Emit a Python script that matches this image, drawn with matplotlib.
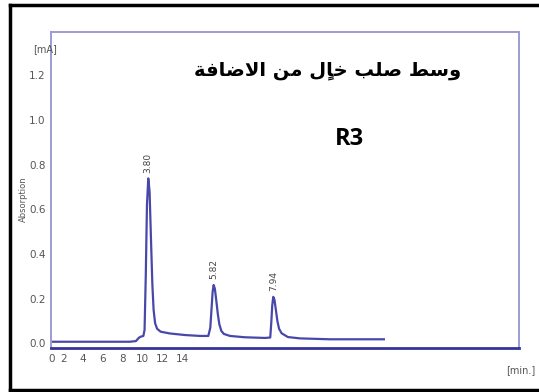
import numpy as np
import matplotlib
matplotlib.use("Agg")
import matplotlib.pyplot as plt
from matplotlib.lines import Line2D
from matplotlib.ticker import FixedLocator
from matplotlib import font_manager

# chromatogram trace (time axis units, absorption in mA)
trace_t = [0.88, 8.75, 9.34, 9.64, 9.84, 10.08, 10.20, 10.32, 10.44, 10.57,
           10.70, 10.85, 10.98, 11.10, 11.25, 11.45, 11.80, 12.73, 14.23, 15.72,
           16.55, 16.75, 16.88, 16.98, 17.08, 17.20, 17.35, 17.50, 17.65, 17.85,
           18.10, 18.70, 20.20, 22.20, 22.72, 22.82, 22.92, 23.02, 23.14, 23.28,
           23.43, 23.60, 23.85, 24.48, 25.68, 28.66, 34.04]
trace_a = [0.007, 0.007, 0.010, 0.025, 0.030, 0.033, 0.060, 0.300, 0.620, 0.738,
           0.680, 0.450, 0.260, 0.150, 0.090, 0.065, 0.052, 0.044, 0.037, 0.033,
           0.033, 0.070, 0.160, 0.230, 0.261, 0.245, 0.190, 0.130, 0.085, 0.055,
           0.042, 0.033, 0.027, 0.024, 0.026, 0.090, 0.170, 0.208, 0.195, 0.150,
           0.100, 0.065, 0.045, 0.028, 0.022, 0.018, 0.018]

# peak apexes and their retention-time labels
peak_t = [10.57, 17.08, 23.02]
peak_a = [0.738, 0.261, 0.208]
peak_labels = ["3.80", "5.82", "7.94"]

xtick_pos = [0.9, 2.1, 4, 6, 8, 10, 12, 14]
xtick_labels = ["0", "2", "4", "6", "8", "10", "12", "14"]
ytick_pos = [0.0, 0.2, 0.4, 0.6, 0.8, 1.0, 1.2]

title_ar = "وسط صلب خالٍ من الاضافة"
subtitle = "R3"

# presentation forms: isolated, final, initial, medial
FORMS = {
    "ا": (0xFE8D, 0xFE8E, None, None),
    "ب": (0xFE8F, 0xFE90, 0xFE91, 0xFE92),
    "ة": (0xFE93, 0xFE94, None, None),
    "خ": (0xFEA5, 0xFEA6, 0xFEA7, 0xFEA8),
    "س": (0xFEB1, 0xFEB2, 0xFEB3, 0xFEB4),
    "ص": (0xFEB9, 0xFEBA, 0xFEBB, 0xFEBC),
    "ض": (0xFEBD, 0xFEBE, 0xFEBF, 0xFEC0),
    "ط": (0xFEC1, 0xFEC2, 0xFEC3, 0xFEC4),
    "ف": (0xFED1, 0xFED2, 0xFED3, 0xFED4),
    "ل": (0xFEDD, 0xFEDE, 0xFEDF, 0xFEE0),
    "م": (0xFEE1, 0xFEE2, 0xFEE3, 0xFEE4),
    "ن": (0xFEE5, 0xFEE6, 0xFEE7, 0xFEE8),
    "و": (0xFEED, 0xFEEE, None, None),
}
LAM_ALEF = (0xFEFB, 0xFEFC)


def is_mark(c):
    return 0x064B <= ord(c) <= 0x0652


def shape_arabic(text):
    # contextual forms, then reversed into left-to-right drawing order
    chars = list(text)
    clusters = []
    i = 0
    while i < len(chars):
        c = chars[i]
        if is_mark(c):
            clusters[-1] += c
            i += 1
            continue
        if c not in FORMS:
            clusters.append(c)
            i += 1
            continue
        j = i - 1
        while j >= 0 and is_mark(chars[j]):
            j -= 1
        prev_joins = j >= 0 and chars[j] in FORMS and FORMS[chars[j]][2] is not None
        k = i + 1
        while k < len(chars) and is_mark(chars[k]):
            k += 1
        nxt = chars[k] if k < len(chars) else None
        if c == "ل" and nxt == "ا":
            clusters.append(chr(LAM_ALEF[1] if prev_joins else LAM_ALEF[0]))
            i = k + 1
            continue
        next_joins = nxt in FORMS and FORMS[c][2] is not None
        iso, fin, ini, med = FORMS[c]
        if prev_joins and next_joins:
            g = med
        elif prev_joins:
            g = fin
        elif next_joins:
            g = ini
        else:
            g = iso
        clusters.append(chr(g))
        i += 1
    return "".join(reversed(clusters))


# narrow face for the axis numbers if one is around
names = {f.name for f in font_manager.fontManager.ttflist}
narrow = [n for n in ["Liberation Sans Narrow", "DejaVu Sans Condensed"] if n in names]
tick_family = narrow + ["DejaVu Sans"]

fig = plt.figure(figsize=(5.39, 3.92), dpi=100)
ax = fig.add_axes([51 / 539, 1 - 348 / 392, 468 / 539, 316 / 392])

ax.plot(trace_t, trace_a, color="#4848aa", lw=1.6, solid_joinstyle="round")

for t, a, lab in zip(peak_t, peak_a, peak_labels):
    ax.annotate(lab, (t, a), xytext=(0, 4), textcoords="offset points",
                rotation=90, ha="center", va="bottom", fontsize=6.5,
                color="#444444")

ax.set_xlim(0.88, 47.5)
ax.set_ylim(-0.021, 1.393)

ax.xaxis.set_major_locator(FixedLocator(xtick_pos))
ax.set_xticklabels(xtick_labels)
ax.set_yticks(ytick_pos)
ax.set_yticklabels([f"{v:.1f}" for v in ytick_pos])
ax.tick_params(length=0, labelsize=7.5, labelcolor="#555555", pad=4)
for lab in ax.get_xticklabels() + ax.get_yticklabels():
    lab.set_family(tick_family)

for side in ["top", "left", "right"]:
    ax.spines[side].set_color("#9c9cd2")
    ax.spines[side].set_linewidth(1.4)
ax.spines["bottom"].set_color("#34349a")
ax.spines["bottom"].set_linewidth(2)

fig.text(33 / 539, 1 - 49 / 392, "[mA]", fontsize=7, color="#555555",
         ha="left", va="center", family=tick_family)
fig.text(23 / 539, 1 - 199 / 392, "Absorption", fontsize=6, color="#555555",
         rotation=90, ha="center", va="center")
fig.text(521 / 539, 1 - 370 / 392, "[min.]", fontsize=7, color="#555555",
         ha="center", va="center", family=tick_family)

fig.text(328 / 539, 1 - 70 / 392, shape_arabic(title_ar), fontsize=14,
         fontweight="bold", color="black", ha="center", va="center",
         family="DejaVu Sans")
fig.text(349 / 539, 1 - 139 / 392, subtitle, fontsize=17, fontweight="bold",
         color="black", ha="center", va="center", family="Open Sans")

# black border around the whole panel
for xs, ys in [((10 / 539, 10 / 539), (0.005, 0.987)),
               ((10 / 539, 1.0), (0.987, 0.987)),
               ((10 / 539, 1.0), (0.005, 0.005))]:
    fig.add_artist(Line2D(xs, ys, transform=fig.transFigure, color="black", lw=2.5))

fig.savefig("out.png", dpi=100)
